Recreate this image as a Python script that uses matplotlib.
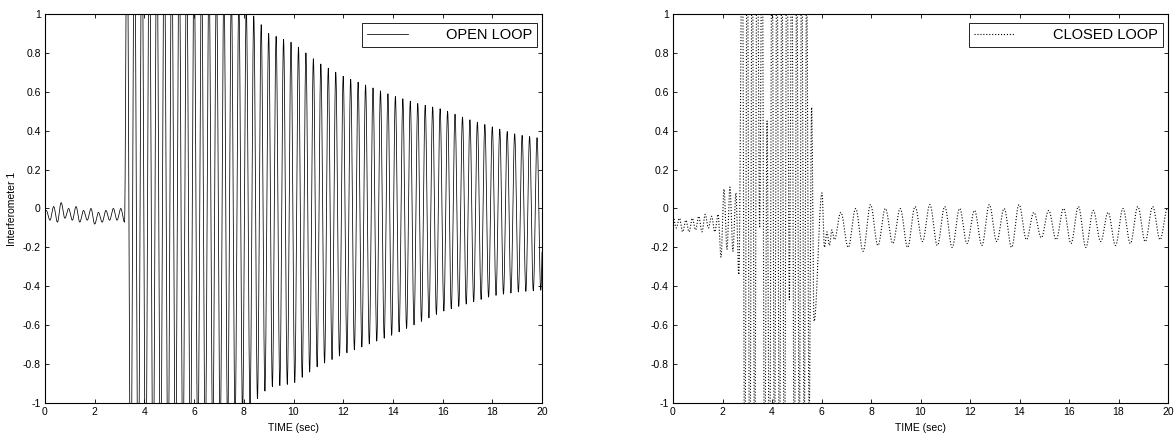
import numpy as np
import matplotlib
matplotlib.use('Agg')
from matplotlib import pyplot as plt
from matplotlib.ticker import FuncFormatter

plt.rcParams['font.family'] = ['Liberation Sans', 'DejaVu Sans']

# ---- open loop -------------------------------------------------------------
# small ripple before the instability, one peak and one trough per cycle
open_pre_start, open_pre_period = 0.05, 0.30
open_pre_peaks = [-0.01, 0.01, 0.03, 0.0, 0.01, -0.01, 0.0, -0.02, -0.01, 0.0]
open_pre_troughs = [-0.06, -0.07, -0.05, -0.06, -0.07, -0.06, -0.08, -0.07, -0.06, -0.06]
open_jump_time = [3.05, 3.20]
open_jump_value = [0.0, -0.07]

# large oscillation, tips at these times
open_start, open_period = 3.30, 0.30
env_time = [3.3, 8.0, 9.0, 10.0, 11.0, 12.0, 13.0, 14.0, 15.0, 16.0, 17.0, 18.0, 19.0, 20.0]
env_upper = [1.6, 1.05, 0.90, 0.85, 0.75, 0.68, 0.63, 0.58, 0.54, 0.51, 0.46, 0.42, 0.38, 0.36]
env_lower = [-1.6, -1.05, -0.92, -0.90, -0.81, -0.75, -0.70, -0.65, -0.59, -0.53, -0.49, -0.45, -0.43, -0.42]

# ---- closed loop -----------------------------------------------------------
closed_quiet = (0.0, 0.26,
                [-0.04, -0.05, -0.06, -0.05, -0.04, -0.03, -0.04],
                [-0.10, -0.12, -0.12, -0.11, -0.12, -0.10, -0.12])
closed_grow = (1.82, 0.24,
               [-0.03, 0.10, 0.11, 0.08],
               [-0.25, -0.21, -0.22, -0.34])
closed_burst = (2.80, 0.20,
                [1.5, 1.6, 1.5, 1.7, 1.6, 0.45, 1.6, 1.5, 1.4, 1.6, 1.5, 1.3, 1.4, 1.2, 0.52],
                [-1.5, -1.6, -1.4, -0.10, -1.5, -1.6, -1.4, -1.5, -1.6, -0.47, -1.5, -1.3, -1.2, -1.1, -0.58])
closed_settle = (6.02, 0.20,
                 [0.08, -0.12, -0.11],
                 [-0.20, -0.19, -0.16])
closed_tail = (6.78, 0.60,
               [-0.02, 0.0, 0.02, 0.0, 0.0, 0.01, 0.02, 0.01, 0.0, -0.01, 0.02, 0.0,
                0.02, -0.02, -0.01, 0.0, 0.01, -0.01, -0.02, 0.0, 0.01, 0.01, 0.0],
               [-0.20, -0.22, -0.19, -0.18, -0.20, -0.17, -0.19, -0.20, -0.18, -0.19, -0.17, -0.20,
                -0.16, -0.15, -0.16, -0.18, -0.20, -0.17, -0.19, -0.18, -0.17, -0.16, -0.18])

x_ticks = np.arange(0, 21, 2)
y_ticks = np.round(np.arange(-1, 1.01, 0.2), 1)


def extremes(start, period, peaks, troughs):
    times, values = [], []
    for i, (p, q) in enumerate(zip(peaks, troughs)):
        times += [start + i * period, start + (i + 0.5) * period]
        values += [p, q]
    return times, values


def trace(times, values, t):
    # half cosine from one turning point to the next
    times = np.asarray(times)
    values = np.asarray(values)
    k = np.clip(np.searchsorted(times, t, side='right') - 1, 0, len(times) - 2)
    frac = np.clip((t - times[k]) / (times[k + 1] - times[k]), 0, 1)
    return values[k] + (values[k + 1] - values[k]) * (1 - np.cos(np.pi * frac)) / 2


t = np.arange(0, 20.0001, 0.004)

# open loop turning points
ot, ov = extremes(open_pre_start, open_pre_period, open_pre_peaks, open_pre_troughs)
ot += open_jump_time
ov += open_jump_value
n_big = int((20 - open_start) / open_period) + 2
big_t = open_start + open_period * np.arange(n_big)
bt, bv = extremes(open_start, open_period,
                  np.interp(big_t, env_time, env_upper),
                  np.interp(big_t + open_period / 2, env_time, env_lower))
ot += bt
ov += bv
open_loop = trace(ot, ov, t)

# closed loop turning points
ct, cv = [], []
for seg in (closed_quiet, closed_grow, closed_burst, closed_settle, closed_tail):
    st, sv = extremes(*seg)
    ct += st
    cv += sv
closed_loop = trace(ct, cv, t)


def fmt(v, pos):
    return '%g' % (round(v, 1) + 0.0)


fig = plt.figure(figsize=(11.75, 4.36), dpi=100)
ax1 = fig.add_axes([45 / 1175, 1 - 403 / 436, 497 / 1175, 389 / 436])
ax2 = fig.add_axes([673 / 1175, 1 - 403 / 436, 495 / 1175, 389 / 436])

ax1.plot(t, open_loop, color='black', linewidth=0.55, label='OPEN LOOP')
ax2.plot(t, closed_loop, color='black', linewidth=0.8, linestyle=':', label='CLOSED LOOP')

for ax in (ax1, ax2):
    ax.set_xlim(0, 20)
    ax.set_ylim(-1, 1)
    ax.set_xticks(x_ticks)
    ax.set_yticks(y_ticks)
    ax.yaxis.set_major_formatter(FuncFormatter(fmt))
    ax.tick_params(direction='in', top=True, right=True, length=3, width=0.6,
                   labelsize=7.5, pad=3)
    for s in ax.spines.values():
        s.set_linewidth(0.8)
    ax.set_xlabel('TIME (sec)', fontsize=7.5, labelpad=4)
    leg = ax.legend(loc='upper right', bbox_to_anchor=(0.99, 0.977), borderaxespad=0,
                    fontsize=10.5, handlelength=2.8, handletextpad=2.6,
                    fancybox=False, framealpha=1, edgecolor='black', borderpad=0.35)
    leg.get_frame().set_linewidth(0.6)

ax1.set_ylabel('Interferometer 1', fontsize=7.5, labelpad=4)

fig.savefig('out.png', dpi=100)
